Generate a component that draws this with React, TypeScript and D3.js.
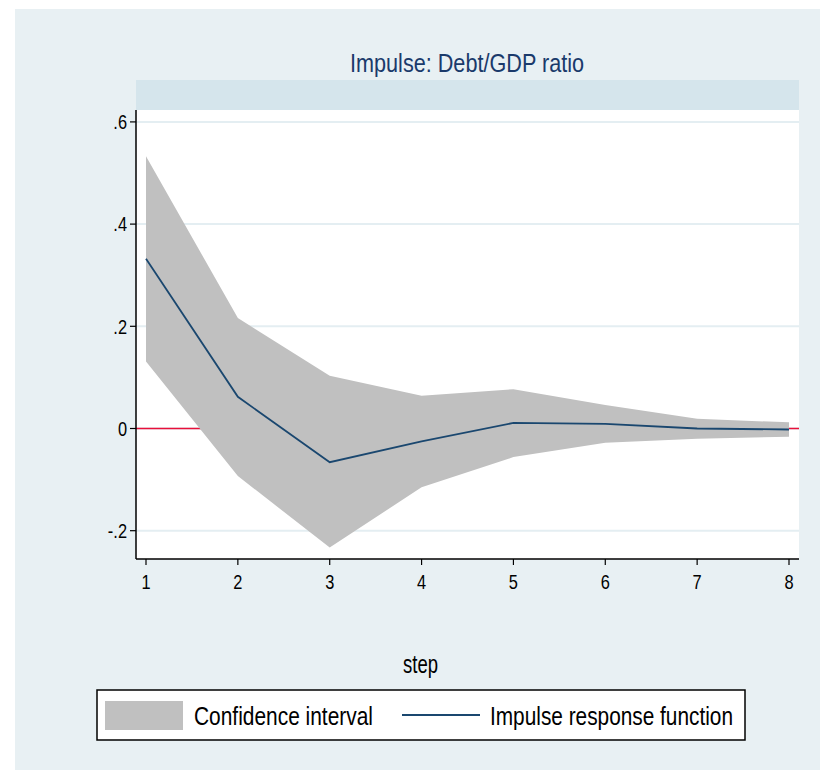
import React from 'react';
import * as d3 from 'd3';

const steps = [1, 2, 3, 4, 5, 6, 7, 8];
const irf = [0.332, 0.062, -0.066, -0.025, 0.011, 0.009, 0.0, -0.002];
const upper = [0.533, 0.216, 0.103, 0.064, 0.077, 0.046, 0.019, 0.012];
const lower = [0.131, -0.093, -0.233, -0.115, -0.056, -0.028, -0.02, -0.016];
const yTicks = [-0.2, 0, 0.2, 0.4, 0.6];

const W = 820;
const H = 770;
const plot = { left: 136, right: 799, top: 110, bottom: 559 };
const font = "'Liberation Sans', Arial, sans-serif";

const fmt = (v: number) => {
  if (v === 0) return '0';
  return v.toFixed(1).replace('0.', '.');
};

// condensed text, the original uses a narrow sans
function NText({ x, y, size, anchor = 'start', fill = '#000', dy, children }: any) {
  return (
    <text
      transform={`translate(${x},${y}) scale(0.82,1)`}
      textAnchor={anchor}
      fontFamily={font}
      fontSize={size}
      fill={fill}
      dy={dy}
    >
      {children}
    </text>
  );
}

export default function App() {
  const x = d3.scaleLinear().domain([1, 8]).range([146, 789]);
  const y = d3.scaleLinear().domain([-0.2554, 0.6233]).range([plot.bottom, plot.top]);

  const rows = steps.map((s, i) => ({ s, lo: lower[i], hi: upper[i], v: irf[i] }));

  const area = d3.area<typeof rows[0]>()
    .x(d => x(d.s))
    .y0(d => y(d.lo))
    .y1(d => y(d.hi));

  const line = d3.line<typeof rows[0]>()
    .x(d => x(d.s))
    .y(d => y(d.v));

  return (
    <svg width={W} height={H} style={{ position: 'absolute', left: 0, top: 0, background: '#fff' }}>
      <rect x={15} y={9} width={W - 15} height={H - 9} fill="#e8f0f3" />

      {/* header strip */}
      <rect x={plot.left} y={80} width={plot.right - plot.left} height={30} fill="#d5e5ec" />
      <text x={350} y={72} fontFamily={font} fontSize={25} fill="#1a3a6b"
        textLength={234} lengthAdjust="spacingAndGlyphs">
        Impulse: Debt/GDP ratio
      </text>

      {/* plot region */}
      <rect x={plot.left} y={plot.top} width={plot.right - plot.left} height={plot.bottom - plot.top} fill="#fff" />
      {yTicks.map(t => (
        <line key={`g${t}`} x1={plot.left} x2={plot.right} y1={y(t)} y2={y(t)} stroke="#e4eef2" strokeWidth={2} />
      ))}
      <line x1={plot.left} x2={plot.right} y1={y(0)} y2={y(0)} stroke="#e8103a" strokeWidth={1.6} />

      <path d={area(rows) ?? ''} fill="#c0c0c0" />
      <path d={line(rows) ?? ''} fill="none" stroke="#1a476f" strokeWidth={1.8} />

      {/* y axis */}
      <line x1={plot.left} x2={plot.left} y1={plot.top} y2={plot.bottom} stroke="#000" strokeWidth={1.5} />
      {yTicks.map(t => (
        <g key={`y${t}`}>
          <line x1={plot.left - 6} x2={plot.left} y1={y(t)} y2={y(t)} stroke="#000" strokeWidth={1.2} />
          <NText x={plot.left - 9} y={y(t)} dy="0.36em" anchor="end" size={20}>{fmt(t)}</NText>
        </g>
      ))}

      {/* x axis */}
      <line x1={plot.left} x2={plot.right} y1={plot.bottom} y2={plot.bottom} stroke="#000" strokeWidth={1.5} />
      {steps.map(s => (
        <g key={`x${s}`}>
          <line x1={x(s)} x2={x(s)} y1={plot.bottom} y2={plot.bottom + 6} stroke="#000" strokeWidth={1.2} />
          <NText x={x(s)} y={plot.bottom + 30} anchor="middle" size={20}>{s}</NText>
        </g>
      ))}
      <text x={403} y={673} fontFamily={font} fontSize={25} fill="#000"
        textLength={35} lengthAdjust="spacingAndGlyphs">step</text>

      {/* legend */}
      <rect x={97} y={690} width={648} height={50} fill="#fff" stroke="#000" strokeWidth={1.5} />
      <rect x={105} y={701} width={78} height={29} fill="#c0c0c0" />
      <text x={194} y={725} fontFamily={font} fontSize={25} fill="#000"
        textLength={179} lengthAdjust="spacingAndGlyphs">Confidence interval</text>
      <line x1={402} x2={480} y1={715} y2={715} stroke="#1a476f" strokeWidth={2.2} />
      <text x={490} y={725} fontFamily={font} fontSize={25} fill="#000"
        textLength={243} lengthAdjust="spacingAndGlyphs">Impulse response function</text>
    </svg>
  );
}
